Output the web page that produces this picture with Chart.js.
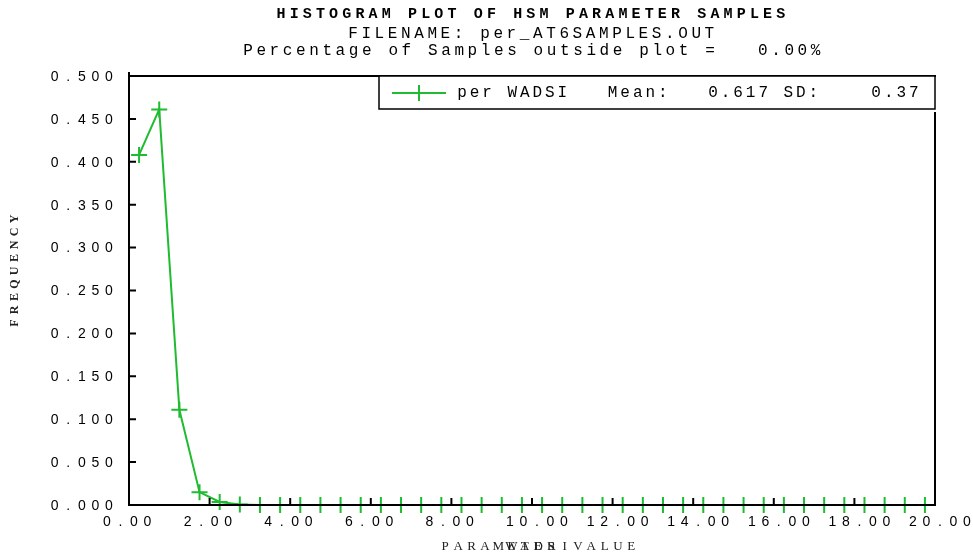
<!DOCTYPE html>
<html>
<head>
<meta charset="utf-8">
<script src="https://cdn.jsdelivr.net/npm/chart.js@4.4.0/dist/chart.umd.min.js"></script>
<style>
  body { margin: 0; background: #fff; }
  canvas { display: block; }
</style>
</head>
<body>
<canvas id="histChart" width="973" height="560"></canvas>
<script>
// histogram bin centres and frequencies
const binCenters = [0.25, 0.75, 1.25, 1.75, 2.25, 2.75, 3.25, 3.75, 4.25, 4.75,
                    5.25, 5.75, 6.25, 6.75, 7.25, 7.75, 8.25, 8.75, 9.25, 9.75,
                    10.25, 10.75, 11.25, 11.75, 12.25, 12.75, 13.25, 13.75, 14.25, 14.75,
                    15.25, 15.75, 16.25, 16.75, 17.25, 17.75, 18.25, 18.75, 19.25, 19.75];
const frequency = [0.408, 0.461, 0.111, 0.015, 0.0035, 0.0005, 0, 0, 0, 0,
                   0, 0, 0, 0, 0, 0, 0, 0, 0, 0,
                   0, 0, 0, 0, 0, 0, 0, 0, 0, 0,
                   0, 0, 0, 0, 0, 0, 0, 0, 0, 0];

const xTickValues = [0, 2, 4, 6, 8, 10, 12, 14, 16, 18, 20];
const xTickLabels = ['0.00', '2.00', '4.00', '6.00', '8.00', '10.00', '12.00', '14.00', '16.00', '18.00', '20.00'];
const yTickValues = [0, 0.05, 0.1, 0.15, 0.2, 0.25, 0.3, 0.35, 0.4, 0.45, 0.5];
const yTickLabels = ['0.000', '0.050', '0.100', '0.150', '0.200', '0.250', '0.300', '0.350', '0.400', '0.450', '0.500'];

const seriesName = 'per WADSI';
const seriesMean = '0.617';
const seriesSD = '0.37';

const titleLine1 = 'HISTOGRAM PLOT OF HSM PARAMETER SAMPLES';
const titleLine2 = 'FILENAME: per_AT6SAMPLES.OUT';
const titleLine3 = 'Percentage of Samples outside plot =   0.00%';
const xTitle = 'PARAMETER VALUE';
const yTitle = 'FREQUENCY';

const green = '#1fbb30';

// draws text one char per fixed-width slot, x = centre of first char
function drawSpaced(ctx, text, x, y, pitch) {
    ctx.textAlign = 'center';
    for (let i = 0; i < text.length; i++) {
        ctx.fillText(text[i], x + i * pitch, y);
    }
}

const framePlugin = {
    id: 'frame',
    afterDatasetsDraw(chart) {
        const ctx = chart.ctx;
        const xs = chart.scales.x, ys = chart.scales.y;
        const left = xs.getPixelForValue(0), right = xs.getPixelForValue(20);
        const top = ys.getPixelForValue(0.5), bottom = ys.getPixelForValue(0);
        ctx.save();
        ctx.strokeStyle = '#000';
        ctx.lineWidth = 2;
        ctx.beginPath();
        ctx.moveTo(left, top - 4);
        ctx.lineTo(left, bottom);
        ctx.lineTo(right, bottom);
        ctx.lineTo(right, top + 36);
        ctx.moveTo(left, top);
        ctx.lineTo(right + 1, top);
        ctx.stroke();
        // y ticks pointing in
        ctx.beginPath();
        yTickValues.forEach(v => {
            const py = ys.getPixelForValue(v);
            ctx.moveTo(left, py);
            ctx.lineTo(left + 7, py);
        });
        // x ticks pointing up
        xTickValues.slice(1, -1).forEach(v => {
            const px = xs.getPixelForValue(v);
            ctx.moveTo(px, bottom);
            ctx.lineTo(px, bottom - 7);
        });
        ctx.stroke();
        ctx.restore();
    },
    afterDraw(chart) {
        const ctx = chart.ctx;
        const xs = chart.scales.x, ys = chart.scales.y;
        const right = xs.getPixelForValue(20);
        const top = ys.getPixelForValue(0.5);
        ctx.save();
        ctx.fillStyle = '#000';
        ctx.textBaseline = 'middle';

        // titles
        ctx.font = 'bold 15px "Liberation Mono"';
        drawSpaced(ctx, titleLine1, 281, 14, 13.15);
        ctx.font = '16px "Liberation Mono"';
        drawSpaced(ctx, titleLine2, 353, 34, 13.2);
        drawSpaced(ctx, titleLine3, 248, 51, 13.2);

        // y tick labels
        ctx.font = '14px "Liberation Sans"';
        yTickValues.forEach((v, i) => {
            const py = ys.getPixelForValue(v);
            drawSpaced(ctx, yTickLabels[i], 109 - 4 * 13.6, py + 1, 13.6);
        });
        // x tick labels
        xTickValues.forEach((v, i) => {
            const px = xs.getPixelForValue(v);
            drawSpaced(ctx, xTickLabels[i], px - 22, 522, 13.5);
        });

        // axis titles
        ctx.font = '13px "Liberation Serif"';
        ctx.fillStyle = '#222';
        drawSpaced(ctx, xTitle, 445, 547, 13.3);
        drawSpaced(ctx, 'WADSI', 445 + 5 * 13.3, 547, 13.3);
        ctx.save();
        ctx.translate(15, 271);
        ctx.rotate(-Math.PI / 2);
        ctx.font = 'bold 12px "Liberation Serif"';
        drawSpaced(ctx, yTitle, -4 * 13, 0, 13);
        ctx.restore();

        // legend box
        ctx.fillStyle = '#fff';
        ctx.fillRect(379, top, right - 379, 33);
        ctx.strokeStyle = '#000';
        ctx.lineWidth = 1.5;
        ctx.strokeRect(379, top, right - 379, 33);
        ctx.strokeStyle = green;
        ctx.lineWidth = 2;
        ctx.beginPath();
        ctx.moveTo(392, top + 17);
        ctx.lineTo(446, top + 17);
        ctx.moveTo(419, top + 9);
        ctx.lineTo(419, top + 25);
        ctx.stroke();
        ctx.fillStyle = '#000';
        ctx.font = '16px "Liberation Mono"';
        const legendText = seriesName + '   Mean:   ' + seriesMean + ' SD:    ' + seriesSD;
        drawSpaced(ctx, legendText, 462, top + 17, 12.55);
        ctx.restore();
    }
};

const points = binCenters.map((x, i) => ({ x: x, y: frequency[i] }));

const ctx = document.getElementById('histChart').getContext('2d');
window.histChart = new Chart(ctx, {
    type: 'line',
    data: {
        datasets: [{
            label: seriesName,
            data: points,
            borderColor: green,
            backgroundColor: green,
            borderWidth: 2,
            pointStyle: 'cross',
            pointRadius: 8,
            pointBorderWidth: 2,
            tension: 0,
            clip: false
        }]
    },
    options: {
        responsive: false,
        animation: false,
        layout: { padding: { left: 129, right: 38, top: 76, bottom: 55 } },
        plugins: {
            legend: { display: false },
            title: { display: false },
            tooltip: { enabled: false }
        },
        scales: {
            x: {
                type: 'linear', min: 0, max: 20,
                ticks: { display: false, stepSize: 2 },
                grid: { display: false, drawTicks: false },
                border: { display: false }
            },
            y: {
                min: 0, max: 0.5,
                ticks: { display: false, stepSize: 0.05 },
                grid: { display: false, drawTicks: false },
                border: { display: false }
            }
        }
    },
    plugins: [framePlugin]
});
</script>
</body>
</html>
